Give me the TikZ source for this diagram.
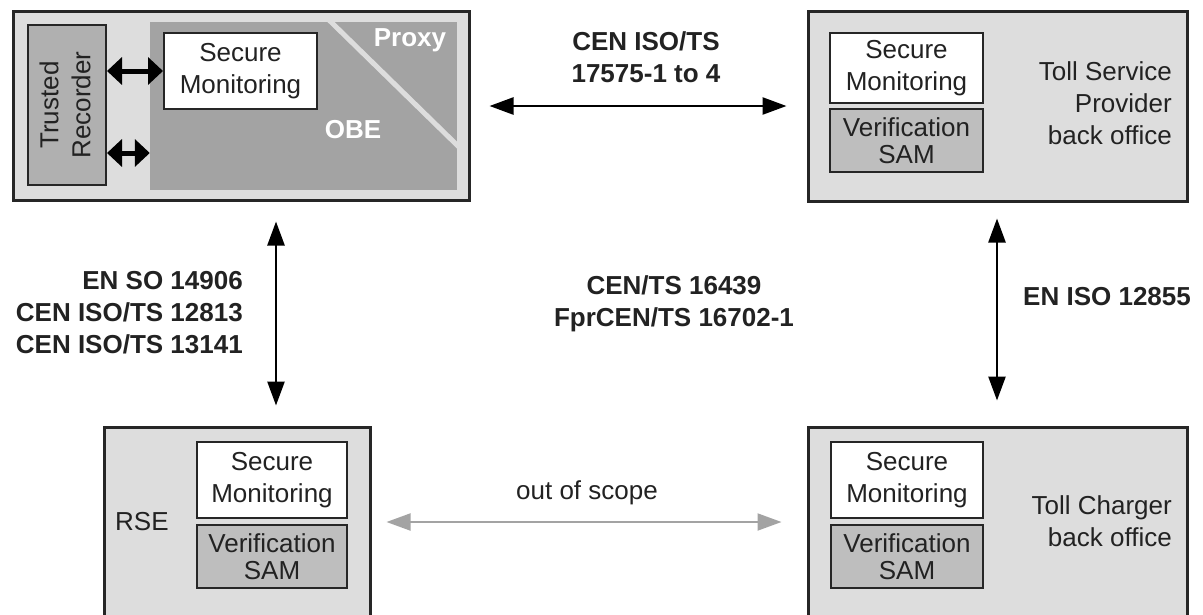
\documentclass[tikz,border=0pt]{standalone}
\usepackage{fontspec}
\setmainfont{Liberation Sans}
\usetikzlibrary{arrows.meta}
\definecolor{outerg}{HTML}{DDDDDD}
\definecolor{darkg}{HTML}{A3A3A3}
\definecolor{midg}{HTML}{B0B0B0}
\definecolor{samg}{HTML}{BEBEBE}
\definecolor{txt}{HTML}{222222}
\definecolor{edge}{HTML}{262626}
\begin{document}
\begin{tikzpicture}[x=1pt,y=-1pt,
  every node/.style={font=\fontsize{26}{32}\selectfont, text=txt},
  outerbox/.style={draw=edge, line width=3pt, fill=outerg, minimum width=#1, inner sep=0pt},
  smbox/.style={draw=edge, line width=2pt, fill=white, minimum width=#1, align=center, inner sep=0pt},
  sambox/.style={draw=edge, line width=2pt, fill=samg, minimum width=#1, minimum height=63pt, align=center, inner sep=0pt, font=\fontsize{26}{27}\selectfont},
  lbl/.style={inner sep=0pt, align=#1},
  boldlbl/.style={inner sep=0pt, align=#1, font=\fontsize{26}{32}\selectfont\bfseries},
  thinarr/.style={draw=black, line width=2.5pt, {Triangle[length=24pt,width=17pt]}-{Triangle[length=24pt,width=17pt]}},
  greyarr/.style={draw=darkg, line width=2pt, {Triangle[length=24pt,width=17pt]}-{Triangle[length=24pt,width=17pt]}},
  fatarr/.style={draw=black, line width=5pt, {Triangle[length=15pt,width=27pt]}-{Triangle[length=15pt,width=27pt]}}
]
\useasboundingbox (0,0) rectangle (1203,614);
\clip (0,0) rectangle (1203,614);

% outer boxes
\node[outerbox=456pt, minimum height=189pt] (obe) at (241,105.5) {};
\node[outerbox=379pt, minimum height=190pt] (tsp) at (997.5,106) {};
\node[outerbox=266pt, minimum height=223pt] (rse) at (237,538.5) {};
\node[outerbox=379pt, minimum height=223pt] (tc) at (997.5,538.5) {};

% OBE internals
\node[fill=darkg, minimum width=307pt, minimum height=168pt, inner sep=0pt] (obedark) at (303.5,106) {};
\begin{scope}
  \clip (150,22) rectangle (457,190);
  \draw[outerg, line width=5pt] (329,20) -- (460,148);
\end{scope}
\node[draw=edge, line width=2pt, fill=midg, minimum width=78pt, minimum height=160pt, inner sep=0pt] (tr) at (67,105) {};
\node[rotate=90, lbl=center] (trtext) at (65,105) {Trusted\\Recorder};
\node[smbox=153pt, minimum height=76pt] (sm1) at (240.5,71) {Secure\\Monitoring};
\node[boldlbl=center, text=white] (proxy) at (410,40) {Proxy};
\node[boldlbl=center, text=white] (obetext) at (353,130) {OBE};
\coordinate (lowy) at (0,153);
\draw[fatarr] (tr.east |- sm1.west) -- (sm1.west);
\draw[fatarr] (tr.east |- lowy) -- (obedark.west |- lowy);

% TSP internals
\node[smbox=153pt, minimum height=70pt] (sm2) at (906.5,68) {Secure\\Monitoring};
\node[sambox=153pt] (vs2) at (906.5,140.5) {Verification\\SAM};
\node[lbl=right, anchor=east] (tsptext) at (1172,103) {Toll Service\\Provider\\back office};

% RSE internals
\node[smbox=150pt, minimum height=76pt] (sm3) at (272,480) {Secure\\Monitoring};
\node[sambox=150pt] (vs3) at (272,556.5) {Verification\\SAM};
\node[lbl=left, anchor=west] (rsetext) at (115,522) {RSE};

% TC internals
\node[smbox=152pt, minimum height=76pt] (sm4) at (907,480) {Secure\\Monitoring};
\node[sambox=152pt] (vs4) at (907,556.5) {Verification\\SAM};
\node[lbl=right, anchor=east] (tctext) at (1172,521) {Toll Charger\\back office};

% connectors
\coordinate (lx) at (276,0);
\coordinate (rx) at (997,0);
\coordinate (ty) at (0,106);
\coordinate (by) at (0,522);
\draw[thinarr, shorten <=19pt, shorten >=20pt] (obe.east |- ty) -- (tsp.west |- ty);
\draw[thinarr, shorten <=20pt, shorten >=20pt] (obe.south -| lx) -- (rse.north -| lx);
\draw[thinarr, shorten <=16pt, shorten >=25pt] (tsp.south -| rx) -- (tc.north -| rx);
\draw[greyarr, shorten <=15pt, shorten >=25pt] (rse.east |- by) -- (tc.west |- by);

% labels
\node[boldlbl=center] (l1) at (646,57.5) {CEN ISO/TS\\17575-1 to 4};
\node[boldlbl=right, anchor=east] (l2) at (243,312.5) {EN SO 14906\\CEN ISO/TS 12813\\CEN ISO/TS 13141};
\node[boldlbl=center] (l3) at (674,303.5) {CEN/TS 16439\\FprCEN/TS 16702-1};
\node[boldlbl=left, anchor=west] (l4) at (1023,297) {EN ISO 12855};
\node[lbl=center] (l5) at (587,493) {out of scope};
\end{tikzpicture}
\end{document}
